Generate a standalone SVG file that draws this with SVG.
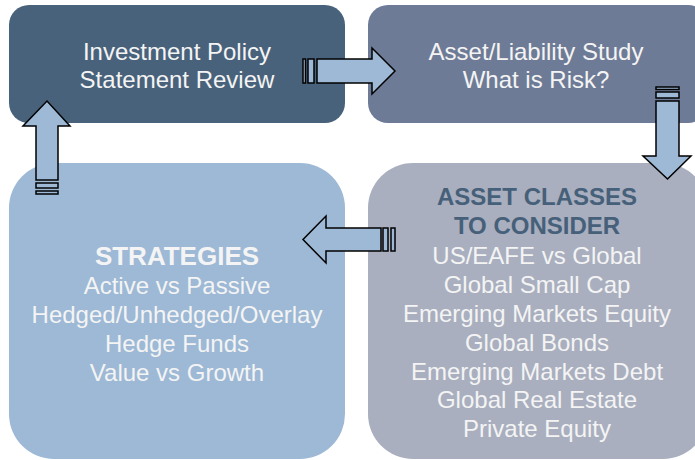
<svg xmlns="http://www.w3.org/2000/svg" width="695" height="460" viewBox="0 0 695 460">
<style>
.t{font-family:"Liberation Sans",Arial,sans-serif;font-size:24px;fill:#F4F4F4;text-anchor:middle}
.b{font-weight:bold}
.arr{fill:#9DB9D6;stroke:#000;stroke-width:1.5;stroke-linejoin:miter}
</style>
<rect width="695" height="460" fill="#fff"/>
<g id="ips">
<rect x="9" y="5" width="336" height="118" rx="20" fill="#48627B"/>
<text class="t" x="177" y="60">Investment Policy</text>
<text class="t" x="177" y="88">Statement Review</text>
</g>
<g id="als">
<rect x="368" y="5" width="340" height="118" rx="20" fill="#6E7B96"/>
<text class="t" x="536" y="60">Asset/Liability Study</text>
<text class="t" x="536" y="88">What is Risk?</text>
</g>
<g id="strategies">
<rect x="9" y="163" width="336" height="296" rx="45" fill="#9DB9D6"/>
<text class="t b" x="177" y="265" style="font-size:26px">STRATEGIES</text>
<text class="t" x="177" y="294">Active vs Passive</text>
<text class="t" x="177" y="323">Hedged/Unhedged/Overlay</text>
<text class="t" x="177" y="352">Hedge Funds</text>
<text class="t" x="177" y="381">Value vs Growth</text>
</g>
<g id="assets">
<rect x="368" y="163" width="340" height="296" rx="45" fill="#A9AFBF"/>
<text class="t b" x="537" y="205" style="fill:#46607A">ASSET CLASSES</text>
<text class="t b" x="537" y="234" style="fill:#46607A">TO CONSIDER</text>
<text class="t" x="537" y="264">US/EAFE vs Global</text>
<text class="t" x="537" y="293">Global Small Cap</text>
<text class="t" x="537" y="322">Emerging Markets Equity</text>
<text class="t" x="537" y="351">Global Bonds</text>
<text class="t" x="537" y="380">Emerging Markets Debt</text>
<text class="t" x="537" y="408">Global Real Estate</text>
<text class="t" x="537" y="437">Private Equity</text>
</g>
<g id="connectors">
<g id="arrow-right">
<rect class="arr" x="303" y="59" width="2.5" height="24"/>
<rect class="arr" x="308" y="59" width="6" height="24"/>
<path class="arr" d="M317 59 H372 V48 L395 71 L372 94 V83 H317 Z"/>
</g>
<g id="arrow-down">
<rect class="arr" x="656" y="87" width="23" height="2.5"/>
<rect class="arr" x="656" y="92" width="23" height="6"/>
<path class="arr" d="M656 101 V156 H643 L667.5 179 L691 156 H679 V101 Z"/>
</g>
<g id="arrow-left">
<rect class="arr" x="391" y="228" width="4" height="23"/>
<rect class="arr" x="383" y="228" width="5" height="23"/>
<path class="arr" d="M381 228 H326 V216 L303 239.5 L326 263 V251 H381 Z"/>
</g>
<g id="arrow-up">
<rect class="arr" x="36" y="191" width="22" height="3"/>
<rect class="arr" x="36" y="183" width="22" height="5"/>
<path class="arr" d="M36 180 V126 H23 L47 101 L70 126 H58 V180 Z"/>
</g>
</g>
</svg>
